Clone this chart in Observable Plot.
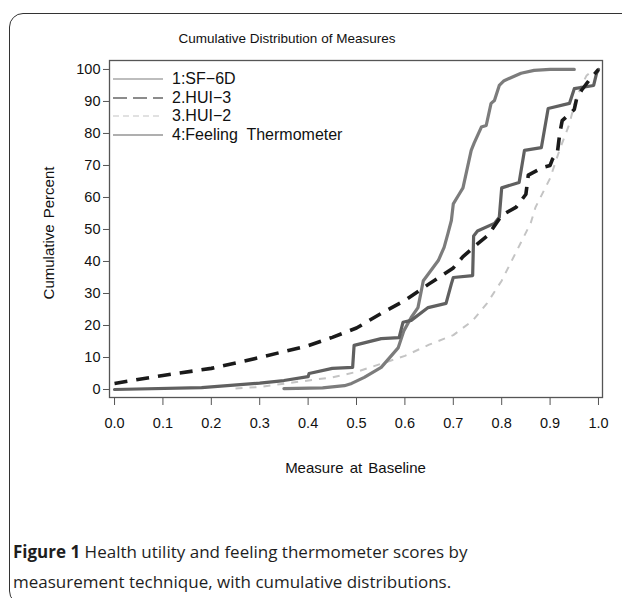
<!DOCTYPE html>
<html>
<head>
<meta charset="utf-8">
<script src="https://cdn.jsdelivr.net/npm/d3@7"></script>
<script src="https://cdn.jsdelivr.net/npm/@observablehq/plot@0.6"></script>
<style>
  html, body { margin: 0; padding: 0; background: #fff; }
  body { width: 622px; height: 598px; position: relative; overflow: hidden; font-family: "Liberation Sans", Arial, sans-serif; }
  #border { position: absolute; left: 9px; top: 13px; width: 640px; height: 592px; border: 1.5px solid #333; border-radius: 14px; box-sizing: border-box; }
  #chart { position: absolute; left: 0; top: 0; }
  .txt { position: absolute; color: #111; white-space: nowrap; font-size: 14px; }
  #title { top: 31px; left: 0; width: 574px; text-align: center; font-size: 13.5px; }
  #xlab { top: 459px; left: 109px; width: 493px; text-align: center; font-size: 15px; word-spacing: 2px; }
  #ylab { left: 48px; top: 233px; transform: translate(-50%, -50%) rotate(-90deg); font-size: 15px; word-spacing: 2px; }
  #legend { position: absolute; left: 113px; top: 70px; }
  .lrow { height: 18.5px; display: flex; align-items: center; font-size: 16px; color: #111; }
  .lrow svg { margin-right: 9px; }
  #caption { position: absolute; left: 13px; top: 537px; font-family: "Open Sans", "Noto Sans", sans-serif; font-size: 17px; line-height: 30px; color: #1e1e1e; }
  #caption b { font-weight: 700; }
</style>
</head>
<body>
<div id="border"></div>
<div id="chart"></div>
<div id="title" class="txt">Cumulative Distribution of Measures</div>
<div id="xlab" class="txt">Measure at Baseline</div>
<div id="ylab" class="txt">Cumulative Percent</div>
<div id="legend"></div>
<div id="caption"><b>Figure 1</b> Health utility and feeling thermometer scores by<br>measurement technique, with cumulative distributions.</div>
<script>
// ---- data ----
const seriesNames = ["1:SF\u22126D", "2.HUI\u22123", "3.HUI\u22122", "4:Feeling  Thermometer"];

const sf6dX = [0.35,0.43,0.475,0.49,0.516,0.551,0.586,0.598,0.613,0.627,0.638,0.648,0.669,0.681,0.689,0.696,0.70,0.712,0.72,0.737,0.743,0.758,0.768,0.778,0.785,0.795,0.805,0.82,0.84,0.867,0.90,0.95];
const sf6dY = [0.3,0.5,1.2,1.9,3.8,6.9,13,18.4,22.5,25.6,34,36,40.3,44.4,48.8,52.8,58,61,63,74.7,77,82,82.5,89.4,90.3,95,96.5,97.5,98.8,99.7,100,100];

const hui3X = [0,0.1,0.2,0.3,0.4,0.45,0.5,0.55,0.6,0.65,0.7,0.72,0.75,0.77,0.78,0.8,0.83,0.85,0.855,0.885,0.9,0.905,0.915,0.92,0.925,0.95,0.955,0.965,0.98,1.0];
const hui3Y = [1.9,4.4,6.6,10,13.7,16.3,19.2,23.7,27.8,33,38,41.5,45.5,48,50,54.4,57,61,67,69.4,70,72,74,80,84,87.5,91,93.5,96.5,100];

const hui2X = [0.25,0.3,0.36,0.45,0.5,0.55,0.6,0.65,0.7,0.74,0.77,0.8,0.82,0.84,0.86,0.87,0.9,0.92,0.94,0.95,0.965,0.975,0.99];
const hui2Y = [0.3,0.8,2,3.8,5.5,8,10.5,14,17,21.5,27,34,40,46,52,57,66,75,83,89,95,98,100];

const ftX = [0,0.18,0.3,0.35,0.4,0.402,0.45,0.492,0.495,0.551,0.588,0.596,0.613,0.648,0.685,0.696,0.70,0.74,0.742,0.75,0.785,0.795,0.80,0.836,0.847,0.882,0.896,0.94,0.95,0.99,0.996,1.0];
const ftY = [0,0.6,2,2.8,4,5,6.6,6.9,13.8,15.9,16.2,21,21.6,25.6,26.9,33,35,35.6,48,49.5,51.9,53.8,63,64.7,74.7,75.6,87.8,89.4,94,95,98.8,100];

const xTicks = [0,0.1,0.2,0.3,0.4,0.5,0.6,0.7,0.8,0.9,1.0];
const yTicks = [0,10,20,30,40,50,60,70,80,90,100];

// ---- styles ----
const styles = [
  {stroke: "#7c7c7c", strokeWidth: 3.2, dash: null, legendDash: null},
  {stroke: "#1a1a1a", strokeWidth: 3.6, dash: "13,9", legendDash: "14,6"},
  {stroke: "#c4c4c4", strokeWidth: 2, dash: "7,7", legendDash: "6,4"},
  {stroke: "#606060", strokeWidth: 3.2, dash: null, legendDash: null}
];

const toRows = (xs, ys) => xs.map((x, i) => ({x, y: ys[i]}));
const sf6d = toRows(sf6dX, sf6dY), hui3 = toRows(hui3X, hui3Y), hui2 = toRows(hui2X, hui2Y), ft = toRows(ftX, ftY);

const lineMark = (data, s) => Plot.line(data, {x: "x", y: "y", stroke: s.stroke, strokeWidth: s.strokeWidth, strokeDasharray: s.dash, strokeLinejoin: "round", strokeLinecap: s.dash ? "butt" : "round"});

const chart = Plot.plot({
  width: 622, height: 480,
  marginLeft: 109, marginRight: 20, marginTop: 60, marginBottom: 83,
  style: {fontFamily: "'Liberation Sans', Arial, sans-serif", fontSize: "14.5px", background: "transparent", color: "#111"},
  x: {domain: [-0.0104, 1.0083], label: null},
  y: {domain: [-2.5, 102.8], label: null},
  marks: [
    Plot.frame({stroke: "#555", strokeWidth: 1.3}),
    Plot.axisX({ticks: xTicks, tickFormat: d3.format(".1f"), tickSize: 8, tickPadding: 12, stroke: "#555", label: null}),
    Plot.axisY({ticks: yTicks, tickSize: 6, tickPadding: 3, stroke: "#555", label: null}),
    lineMark(hui2, styles[2]),
    lineMark(sf6d, styles[0]),
    lineMark(ft, styles[3]),
    lineMark(hui3, styles[1])
  ]
});
document.getElementById("chart").appendChild(chart);

// ---- legend ----
const legend = document.getElementById("legend");
seriesNames.forEach((name, i) => {
  const s = styles[i];
  const row = document.createElement("div");
  row.className = "lrow";
  row.innerHTML = `<svg width="50" height="6"><line x1="0" y1="3" x2="50" y2="3" stroke="${s.stroke}" stroke-width="1.2" ${s.legendDash ? `stroke-dasharray="${s.legendDash}"` : ""}/></svg><span style="white-space:pre">${name}</span>`;
  legend.appendChild(row);
});
</script>
</body>
</html>
